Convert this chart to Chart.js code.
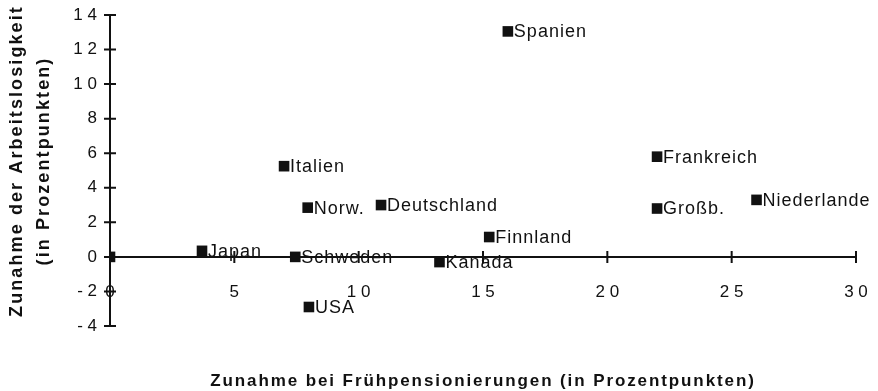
<!DOCTYPE html>
<html>
<head>
<meta charset="utf-8">
<script src="https://cdn.jsdelivr.net/npm/chart.js@4.4.1/dist/chart.umd.min.js"></script>
<style>
html, body { margin: 0; padding: 0; background: #fff; }
#wrap { width: 878px; height: 391px; }
</style>
</head>
<body>
<div id="wrap"><canvas id="fruehChart"></canvas></div>
<script>
// Länder und Werte (Prozentpunkte)
const COUNTRIES = ['', 'Japan', 'Schweden', 'Norw.', 'USA', 'Italien', 'Deutschland', 'Kanada', 'Finnland', 'Spanien', 'Frankreich', 'Großb.', 'Niederlande'];
const FRUEHPENSION = [0, 3.7, 7.45, 7.95, 8.0, 7.0, 10.9, 13.25, 15.25, 16.0, 22.0, 22.0, 26.0];
const ARBEITSLOS = [0, 0.35, 0.0, 2.85, -2.9, 5.25, 3.0, -0.3, 1.15, 13.05, 5.8, 2.8, 3.3];

const X_TICKS = [0, 5, 10, 15, 20, 25, 30];
const Y_TICKS = [-4, -2, 0, 2, 4, 6, 8, 10, 12, 14];

const X_TITLE = 'Zunahme bei Frühpensionierungen (in Prozentpunkten)';
const Y_TITLE = ['Zunahme der Arbeitslosigkeit', '(in Prozentpunkten)'];

const INK = '#111';
const FONT = '"Liberation Sans", Arial, Helvetica, sans-serif';

const points = FRUEHPENSION.map((x, i) => ({ x: x, y: ARBEITSLOS[i] }));

// spaced digits like "1 4", "- 2"
function spaced(v) {
    return String(v).split('').join(' ');
}

const scatterExtras = {
    id: 'scatterExtras',
    afterDatasetsDraw(chart) {
        const ctx = chart.ctx;
        const xs = chart.scales.x;
        const ys = chart.scales.y;
        const x0 = xs.getPixelForValue(0);
        const y0 = ys.getPixelForValue(0);

        ctx.save();
        ctx.strokeStyle = INK;
        ctx.lineWidth = 2;
        // cross ticks on both axes
        ctx.beginPath();
        for (const v of Y_TICKS) {
            const py = ys.getPixelForValue(v);
            ctx.moveTo(x0 - 6, py);
            ctx.lineTo(x0 + 6, py);
        }
        for (const v of X_TICKS) {
            const px = xs.getPixelForValue(v);
            ctx.moveTo(px, y0 - 6);
            ctx.lineTo(px, y0 + 6);
        }
        ctx.stroke();

        // country names next to the markers
        ctx.fillStyle = INK;
        ctx.font = '18px ' + FONT;
        ctx.letterSpacing = '1px';
        ctx.textAlign = 'left';
        ctx.textBaseline = 'middle';
        const meta = chart.getDatasetMeta(0);
        meta.data.forEach((pt, i) => {
            if (COUNTRIES[i]) {
                ctx.fillText(COUNTRIES[i], pt.x + 6, pt.y + 1);
            }
        });

        // axis titles
        const area = chart.chartArea;
        ctx.font = 'bold 17px ' + FONT;
        ctx.letterSpacing = '1.9px';
        ctx.textAlign = 'center';
        ctx.textBaseline = 'alphabetic';
        ctx.fillText(X_TITLE, (area.left + area.right) / 2, 386);

        ctx.translate(0, 161);
        ctx.rotate(-Math.PI / 2);
        ctx.letterSpacing = '2.1px';
        ctx.font = 'bold 18px ' + FONT;
        ctx.fillText(Y_TITLE[0], 0, 22);
        ctx.fillText(Y_TITLE[1], 0, 49);
        ctx.restore();
    }
};

new Chart(document.getElementById('fruehChart'), {
    type: 'scatter',
    data: {
        datasets: [{
            data: points,
            pointStyle: 'rect',
            pointRadius: 7.5,
            pointHoverRadius: 7.5,
            backgroundColor: INK,
            borderColor: INK,
            borderWidth: 0
        }]
    },
    options: {
        responsive: true,
        maintainAspectRatio: false,
        animation: false,
        events: [],
        layout: { padding: { left: 0, top: 15, right: 22, bottom: 65 } },
        plugins: { legend: { display: false }, tooltip: { enabled: false } },
        scales: {
            x: {
                type: 'linear',
                position: { y: 0 },
                min: 0,
                max: 30,
                afterBuildTicks: s => { s.ticks = X_TICKS.map(v => ({ value: v })); },
                afterFit: s => { s.paddingLeft = 0; s.paddingRight = 0; },
                grid: { display: false, drawTicks: false },
                border: { display: true, color: INK, width: 2 },
                ticks: {
                    color: INK,
                    padding: 25,
                    maxRotation: 0,
                    autoSkip: false,
                    font: { family: FONT, size: 17 },
                    callback: v => spaced(v)
                }
            },
            y: {
                type: 'linear',
                position: 'left',
                min: -4,
                max: 14,
                afterBuildTicks: s => { s.ticks = Y_TICKS.map(v => ({ value: v })); },
                afterFit: s => { s.width = 110; s.paddingTop = 0; s.paddingBottom = 0; },
                grid: { display: false, drawTicks: false },
                border: { display: true, color: INK, width: 2 },
                ticks: {
                    color: INK,
                    padding: 13,
                    autoSkip: false,
                    font: { family: FONT, size: 17 },
                    callback: v => spaced(v)
                }
            }
        }
    },
    plugins: [scatterExtras]
});
</script>
</body>
</html>
